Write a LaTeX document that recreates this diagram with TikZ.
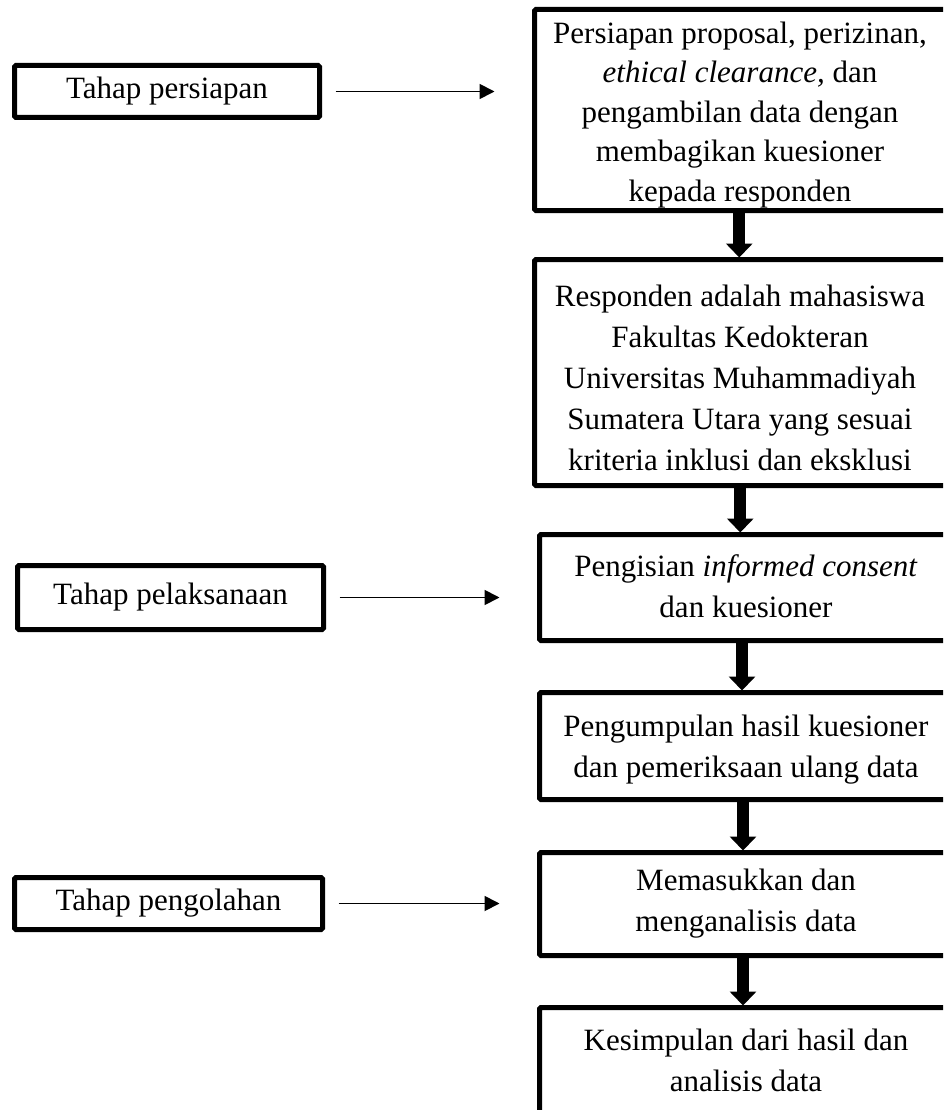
\documentclass[tikz,border=0pt]{standalone}
\usepackage{fontspec}
\setmainfont{Liberation Serif}
\usetikzlibrary{arrows.meta}
\tikzset{
  box/.style={draw=black, line width=5pt, rounded corners=1.5pt, inner sep=0pt, outer sep=0pt},
  txt/.style={align=center, inner sep=0pt, font=\fontsize{31}{41}\selectfont},
  thinarrow/.style={line width=1.8pt, -{Triangle[length=15pt,width=15pt]}, shorten <=16pt, shorten >=40pt},
  bigarrow/.style={line width=12pt, -{Triangle[length=14pt,width=26pt]}, shorten >=2pt}
}
\begin{document}
\begin{tikzpicture}[x=1pt,y=-1pt]
\useasboundingbox (0,0) rectangle (943,1110);
\clip (0,0) rectangle (943,1110);
% right column boxes
\node[box, minimum width=412.5pt, minimum height=201pt] (B1) at (740.75,110) {};
\node[box, minimum width=412.5pt, minimum height=226pt] (B2) at (740.75,372.5) {};
\node[box, minimum width=409pt, minimum height=106pt] (B3) at (744,587.5) {};
\node[box, minimum width=409pt, minimum height=107pt] (B4) at (744,746) {};
\node[box, minimum width=409pt, minimum height=103pt] (B5) at (744,904) {};
\node[box, minimum width=409pt, minimum height=107pt] (B6) at (744,1061) {};
% texts
\node[txt, font=\fontsize{31}{39.5}\selectfont] (T1) at (740,115) {Persiapan proposal, perizinan,\\ \textit{ethical clearance,} dan\\ pengambilan data dengan\\ membagikan kuesioner\\ kepada responden};
\node[txt] (T2) at (740,378) {Responden adalah mahasiswa\\ Fakultas Kedokteran\\ Universitas Muhammadiyah\\ Sumatera Utara yang sesuai\\ kriteria inklusi dan eksklusi};
\node[txt] (T3) at (746,586) {Pengisian \textit{informed consent}\\ dan kuesioner};
\node[txt] (T4) at (746,750) {Pengumpulan hasil kuesioner\\ dan pemeriksaan ulang data};
\node[txt] (T5) at (746,904) {Memasukkan dan\\ menganalisis data};
\node[txt] (T6) at (746,1060) {Kesimpulan dari hasil dan\\ analisis data};
% left boxes
\node[box, minimum width=305pt, minimum height=52pt] (L1) at (167,91.5) {};
\node[box, minimum width=306pt, minimum height=64pt] (L2) at (170.5,597.5) {};
\node[box, minimum width=308pt, minimum height=52pt] (L3) at (168.5,903.5) {};
\node[txt] (S1) at (L1) {Tahap persiapan};
\node[txt] (S2) at (L2) {Tahap pelaksanaan};
\node[txt] (S3) at (L3) {Tahap pengolahan};
% thin arrows
\draw[thinarrow] (L1.east) -- (L1.east -| B1.west);
\draw[thinarrow] (L2.east) -- (L2.east -| B3.west);
\draw[thinarrow] (L3.east) -- (L3.east -| B5.west);
% thick arrows
\draw[bigarrow] ([xshift=-1.5pt]B1.south) -- ([xshift=-1.5pt]B1.south |- B2.north);
\draw[bigarrow] ([xshift=-0.5pt]B2.south) -- ([xshift=-0.5pt]B2.south |- B3.north);
\draw[bigarrow] ([xshift=-2pt]B3.south) -- ([xshift=-2pt]B3.south |- B4.north);
\draw[bigarrow] ([xshift=-1pt]B4.south) -- ([xshift=-1pt]B4.south |- B5.north);
\draw[bigarrow] ([xshift=-1pt]B5.south) -- ([xshift=-1pt]B5.south |- B6.north);
\end{tikzpicture}
\end{document}
